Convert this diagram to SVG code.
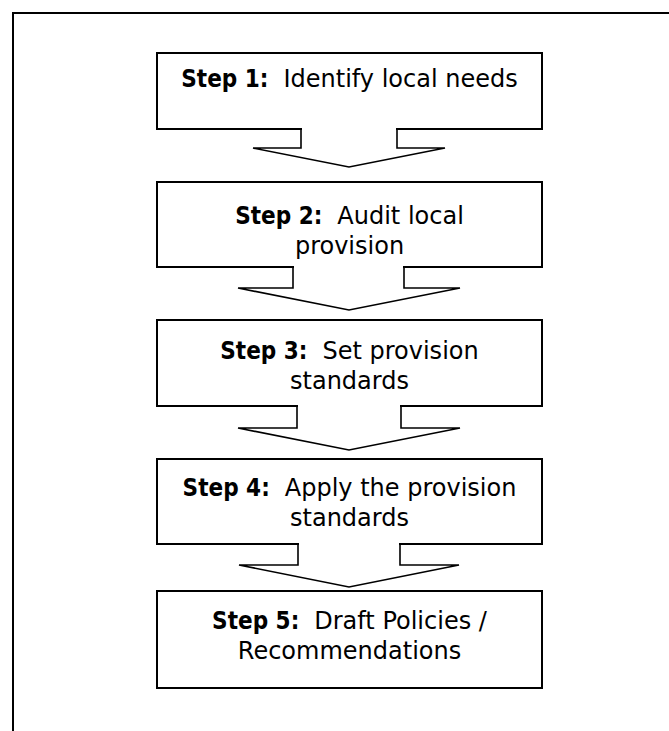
<svg xmlns="http://www.w3.org/2000/svg" width="669" height="731" viewBox="0 0 669 731">
<style>
.box{fill:#fff;stroke:#000;stroke-width:2}
.fill{fill:#fff;stroke:none}
.edge{fill:none;stroke:#000;stroke-width:1.6;stroke-linejoin:miter}
.t{font-family:"DejaVu Sans",Verdana,sans-serif;font-size:24px;fill:#000;text-anchor:middle}
.b{font-family:"DejaVu Sans Condensed","DejaVu Sans",sans-serif;font-weight:bold;font-size:24px}
</style>
<rect width="669" height="731" fill="#fff"/>
<path d="M13,731 V13 H669" fill="none" stroke="#000" stroke-width="2"/>
<g id="step1">
<rect class="box" x="157" y="53" width="385" height="76"/>
<text class="t" x="349.5" y="87"><tspan class="b">Step 1:</tspan><tspan dx="15">Identify local needs</tspan></text>
</g>
<g id="step2">
<rect class="box" x="157" y="182" width="385" height="85"/>
<text class="t" x="349.5" y="224"><tspan class="b">Step 2:</tspan><tspan dx="15">Audit local</tspan></text>
<text class="t" x="349.5" y="254">provision</text>
</g>
<g id="step3">
<rect class="box" x="157" y="320" width="385" height="86"/>
<text class="t" x="349.5" y="359"><tspan class="b">Step 3:</tspan><tspan dx="15">Set provision</tspan></text>
<text class="t" x="349.5" y="389">standards</text>
</g>
<g id="step4">
<rect class="box" x="157" y="459" width="385" height="85"/>
<text class="t" x="349.5" y="496"><tspan class="b">Step 4:</tspan><tspan dx="15">Apply the provision</tspan></text>
<text class="t" x="349.5" y="526">standards</text>
</g>
<g id="step5">
<rect class="box" x="157" y="591" width="385" height="97"/>
<text class="t" x="349.5" y="629"><tspan class="b">Step 5:</tspan><tspan dx="15">Draft Policies /</tspan></text>
<text class="t" x="349.5" y="659">Recommendations</text>
</g>
<g id="connectors">
<polygon class="fill" points="302,127 396,127 396,148 445,148 349,167 253,148 302,148"/>
<polyline class="edge" points="301,129 301,148 253,148 349,167 445,148 397,148 397,129"/>
<polygon class="fill" points="294,265 403,265 403,288 460,288 349,310 238,288 294,288"/>
<polyline class="edge" points="293,267 293,288 238,288 349,310 460,288 404,288 404,267"/>
<polygon class="fill" points="298,404 400,404 400,428 460,428 349,450 238,428 298,428"/>
<polyline class="edge" points="297,406 297,428 238,428 349,450 460,428 401,428 401,406"/>
<polygon class="fill" points="299,542 399,542 399,565 459,565 349,587 239,565 299,565"/>
<polyline class="edge" points="298,544 298,565 239,565 349,587 459,565 400,565 400,544"/>
</g>
</svg>
